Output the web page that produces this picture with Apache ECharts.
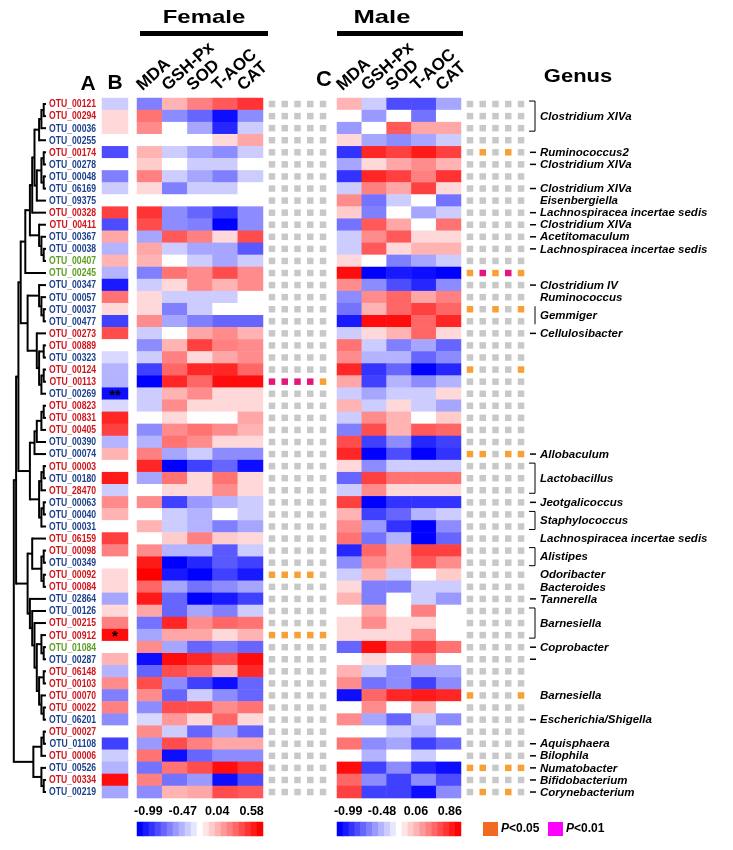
<!DOCTYPE html>
<html>
<head>
<meta charset="utf-8">
<script src="https://cdn.jsdelivr.net/npm/echarts@6/dist/echarts.min.js"></script>
<style>
  html, body { margin: 0; padding: 0; background: #fff; }
  #chart { width: 733px; height: 850px; }
</style>
</head>
<body>
<div id="chart"></div>
<script>
// ---- data ----
const otuNames = ['OTU_00121','OTU_00294','OTU_00036','OTU_00255','OTU_00174','OTU_00278','OTU_00048','OTU_06169',
  'OTU_09375','OTU_00328','OTU_00411','OTU_00367','OTU_00038','OTU_00407','OTU_00245','OTU_00347','OTU_00057',
  'OTU_00037','OTU_00477','OTU_00273','OTU_00889','OTU_00323','OTU_00124','OTU_00113','OTU_00269','OTU_00823',
  'OTU_00831','OTU_00405','OTU_00390','OTU_00074','OTU_00003','OTU_00180','OTU_28470','OTU_00063','OTU_00040',
  'OTU_00031','OTU_06159','OTU_00098','OTU_00349','OTU_00092','OTU_00084','OTU_02864','OTU_00126','OTU_00215',
  'OTU_00912','OTU_01084','OTU_00287','OTU_06148','OTU_00103','OTU_00070','OTU_00022','OTU_06201','OTU_00027',
  'OTU_01108','OTU_00006','OTU_00526','OTU_00334','OTU_00219'];

// r = red, b = blue, g = green label
const otuGroup = 'rrbbrbbbbrrbbggbbbbrrbrrbrrrbbrbrbbbrrbrrbbrrgbrrrrbrbrbrb';

const traits = ['MDA', 'GSH-Px', 'SOD', 'T-AOC', 'CAT'];

// column B
const otuB = [-0.2,0.15,0.15,0,-0.7,0,-0.5,-0.2,0,0.75,-0.7,0.35,-0.3,0.3,-0.3,-0.9,0.55,0.15,-0.75,0.7,
  0,-0.15,-0.3,-0.3,-0.95,-0.15,0.85,0.75,-0.3,0.3,0,0.9,-0.2,0.45,0.3,0,0.75,0.5,0,0.15,
  0.15,-0.35,0.15,0.5,0.95,0,0.3,-0.3,0.45,-0.5,0.5,-0.45,0,-0.75,-0.2,-0.3,0.95,-0.35];

const starsB = { 24: '**', 44: '*' };

// rows: MDA, GSH-Px, SOD, T-AOC, CAT
const femaleCorr = [
  [-0.5,0.3,0.5,0.65,0.8],[0.55,-0.45,-0.6,-0.95,-0.45],[0.45,0,-0.35,-0.85,-0.2],[0,0,0,0.15,0.35],
  [0.3,-0.2,-0.35,-0.45,-0.2],[0.2,0,-0.2,-0.2,0],[0.5,-0.2,-0.35,-0.5,-0.2],[0.15,-0.5,-0.2,-0.2,0],
  [0,0,0,0,0],[0.8,-0.45,-0.6,-0.8,-0.45],[0.7,-0.45,-0.5,-1,-0.45],[-0.35,0.65,0.5,0.15,0.7],
  [0.35,-0.2,-0.35,-0.35,-0.65],[0.3,0,-0.2,-0.35,-0.2],[-0.5,0.55,0.45,0.7,0.45],[-0.2,0.15,0.45,0.3,0.45],
  [0.15,-0.2,-0.2,-0.2,0],[0.15,-0.5,-0.2,0,0],[0.45,-0.35,-0.5,-0.6,-0.6],[-0.2,0,0.35,0.45,0.3],
  [-0.45,0.3,0.75,0.5,0.45],[-0.2,0.5,0.15,0.35,0.45],[-0.75,0.6,0.85,0.85,0.6],[-1,0.85,0.6,0.95,0.95],
  [-0.2,0.3,0.45,0.15,0.15],[-0.2,0.45,0.15,0.15,0.15],[0,0.15,0,0,0.35],[-0.45,0.45,0.55,0.45,0.3],
  [-0.3,0.55,0.45,0.15,0.15],[0.5,-0.35,-0.2,-0.45,-0.45],[0.85,-1,-0.75,-0.6,-0.95],[-0.35,0.55,0.15,0.55,0.15],
  [0,0.15,0.15,0.45,0.15],[0.45,-0.75,-0.4,-0.3,-0.2],[0,-0.2,-0.3,0,-0.2],[0.3,-0.2,-0.3,-0.5,-0.35],
  [0,0.2,0.5,0.2,0.15],[0.45,-0.3,-0.3,-0.65,-0.2],[0.9,-1,-0.85,-0.65,-0.75],[1,-0.9,-1,-0.75,-0.9],
  [0.6,-0.35,-0.55,-0.45,-0.35],[0.9,-0.6,-1,-0.9,-0.75],[0.35,-0.6,-0.35,-0.5,-0.2],[-0.55,0.85,0.45,0.6,0.55],
  [-0.35,0.35,0.35,0.15,0.3],[0.45,-0.35,-0.6,-0.5,-0.6],[-0.95,0.95,0.85,0.7,0.95],[-0.6,0.7,0.6,0.3,0.85],
  [0.7,-0.45,-0.75,-0.95,-0.6],[0.45,-0.6,-0.2,-0.45,-0.6],[-0.45,0.7,0.7,0.45,0.55],[-0.15,0.4,0.15,0.6,0.15],
  [0.45,-0.2,-0.6,-0.35,-0.6],[-0.4,0.7,0.5,0.35,0.35],[0.55,-0.95,-0.6,-0.45,-0.45],[-0.55,0.55,0.7,0.95,0.8],
  [0.5,-0.55,-0.4,-0.95,-0.7],[-0.45,0.3,0.35,0.7,0.65]
];

const maleCorr = [
  [0.3,-0.2,-0.7,-0.7,-0.35],[0,-0.4,0,-0.55,0],[-0.4,0,0.65,0.35,0.35],[0.15,-0.35,-0.45,-0.35,-0.2],
  [-0.8,0.85,0.75,0.9,0.75],[-0.35,0.15,0.35,0.45,0.3],[-0.8,0.85,0.75,0.5,0.8],[-0.2,0.5,0.35,0.75,0.15],
  [0.45,-0.55,-0.2,0,-0.55],[0.2,-0.5,0,-0.35,-0.2],[-0.55,0.65,0.35,0,0.55],[-0.2,0.45,0.65,0.15,0.15],
  [-0.2,0.65,0.15,0.3,0.3],[0.15,0,-0.5,-0.35,-0.2],[0.95,-1,-0.9,-0.95,-1],[0.45,-0.45,-0.7,-0.85,-0.45],
  [-0.45,0.45,0.6,0.35,0.5],[-0.55,0.3,0.6,0.75,0.6],[-0.9,0.95,0.95,0.6,0.85],[-0.2,0.15,0.3,0.6,0.15],
  [0.55,-0.2,-0.5,-0.35,-0.6],[0.45,-0.3,-0.3,-0.6,-0.45],[0.85,-0.8,-0.6,-1,-0.85],[0.35,-0.75,-0.3,-0.45,-0.3],
  [-0.2,-0.35,-0.2,-0.2,0.15],[0.3,-0.2,0.15,-0.2,-0.35],[-0.2,0.45,0.3,0,0.2],[-0.5,0.7,0.3,0.65,0.6],
  [0.7,-0.75,-0.45,-0.85,-0.75],[0.85,-1,-0.7,-1,-0.8],[0.15,-0.45,-0.2,-0.2,-0.2],[-0.6,0.75,0.55,0.55,0.55],
  [-0.2,0.45,0.15,0.15,0.15],[0.75,-1,-0.8,-0.8,-0.8],[0.3,-0.75,-0.6,-0.3,-0.2],[0.45,-0.4,-0.8,-1,-0.45],
  [0.55,-0.55,-0.3,-1,-0.6],[-0.85,0.6,0.35,0.75,0.75],[-0.45,0.45,0.35,0.65,0.45],[-0.2,0.3,-0.2,0,0.2],
  [0.15,-0.5,-0.5,-0.2,-0.2],[0.3,-0.5,0,-0.2,-0.4],[0,0.35,0,0.5,0],[0.15,0.45,0.15,0.15,0],
  [0.15,0.15,0.15,0.45,0],[-0.6,0.95,0.6,0.75,0.55],[0,0.15,0,0.45,0],[0.3,-0.2,-0.45,-0.35,-0.35],
  [0.45,-0.55,-0.45,-0.75,-0.45],[-0.95,0.6,0.85,0.9,0.85],[0,0.45,0,0.35,0],[0.45,-0.35,-0.6,-0.2,-0.45],
  [0,0,-0.2,-0.3,0],[0.55,-0.45,-0.35,-0.75,-0.6],[0,-0.3,0,-0.2,0],[0.95,-0.75,-0.45,-0.85,-0.95],
  [0.6,-0.45,-0.75,-0.45,-0.7],[0.75,-0.75,-0.75,-0.95,-0.45]
];

// significance per row: 0 = n.s. (grey), 1 = P<0.05, 2 = P<0.01
const femaleSig = { 23: [2,2,2,2,1], 39: [1,1,1,1,0], 44: [1,1,1,1,1] };
const maleSig = { 4: [0,1,0,1,0], 14: [1,2,1,2,1], 17: [1,0,1,0,1], 22: [1,0,0,0,1], 29: [1,1,0,1,1],
  49: [1,0,0,0,1], 55: [1,1,0,1,1], 57: [0,1,0,1,0] };

// genus annotations: [firstRow, lastRow, name, mark]
const genusNotes = [
  [0,2,'Clostridium XIVa','bracket'], [4,4,'Ruminococcus2','dash'], [5,5,'Clostridium XIVa','dash'],
  [7,7,'Clostridium XIVa','dash'], [8,8,'Eisenbergiella','none'], [9,9,'Lachnospiracea incertae sedis','dash'],
  [10,10,'Clostridium XIVa','dash'], [11,11,'Acetitomaculum','dash'], [12,12,'Lachnospiracea incertae sedis','dash'],
  [15,15,'Clostridium IV','dash'], [16,16,'Ruminococcus','none'], [17,18,'Gemmiger','bar'],
  [19,19,'Cellulosibacter','dash'], [29,29,'Allobaculum','dash'], [30,32,'Lactobacillus','bracket'],
  [33,33,'Jeotgalicoccus','dash'], [34,35,'Staphylococcus','bracket'], [36,36,'Lachnospiracea incertae sedis','none'],
  [37,38,'Alistipes','bracket'], [39,39,'Odoribacter','none'], [40,40,'Bacteroides','none'],
  [41,41,'Tannerella','dash'], [42,44,'Barnesiella','bracket'], [45,45,'Coprobacter','dash'], [46,46,'','dash'],
  [49,49,'Barnesiella','none'], [51,51,'Escherichia/Shigella','dash'], [53,53,'Aquisphaera','dash'],
  [54,54,'Bilophila','dash'], [55,55,'Numatobacter','dash'], [56,56,'Bifidobacterium','dash'],
  [57,57,'Corynebacterium','dash']
];

// clustering tree: [height, left, right], leaves are row indices
const dendro = [14,
  [13,
    [12,
      [11,
        [9, [7, [6, [5, [3,[2,[1,0,1],2],3], [4,[2,[1,4,5],[1,6,7]],8]], 9], [3,10,[2,11,[1,12,13]]]], 14],
        [8, [3,15,[2,16,[1,17,18]]], [4,19,[3,[1,20,21],[2,[1,22,23],24]]]]
      ],
      [7, [5,[4,[2,[1,25,26],27],28],29], [3,[2,[1,30,31],32],[2,[1,33,34],35]]]
    ],
    [8, [6,36,[2,[1,37,38],[1,39,40]]], [7,41,[6,42,[5,43,[4,[2,44,[1,45,46]],[3,[1,47,48],[2,49,[1,50,51]]]]]]]]
  ],
  [5.5, [2,[1,52,53],54], [2,55,[1,56,57]]]
];

// colour key steps and tick labels
const keySteps = [-1,-0.9,-0.8,-0.7,-0.6,-0.5,-0.4,-0.3,-0.2,-0.1,0,0.1,0.2,0.3,0.4,0.5,0.6,0.7,0.8,0.9,1];
const femaleTicks = ['-0.99', '-0.47', '0.04', '0.58'];
const maleTicks = ['-0.99', '-0.48', '0.06', '0.86'];

// ---- layout ----
const TOP = 98, ROWH = 12.07, NROW = otuNames.length, HM_H = ROWH * NROW;
const FONT = '"Liberation Sans", Arial, sans-serif';
const labelColor = { r: '#d0141c', b: '#1c3f8c', g: '#5c9e22' };
const sigColor = ['#c8c8c8', '#f7a035', '#e4157c'];
const rowY = r => TOP + (r + 0.5) * ROWH;

const chart = echarts.init(document.getElementById('chart'));

const F_LEFT = 137, F_W = 126, M_LEFT = 337, M_W = 124;
const grids = [
  { left: 102, top: TOP, width: 26, height: HM_H },      // 0 column B
  { left: F_LEFT, top: TOP, width: F_W, height: HM_H },  // 1 female
  { left: 265.6, top: TOP, width: 63.8, height: HM_H },  // 2 female sig
  { left: M_LEFT, top: TOP, width: M_W, height: HM_H },  // 3 male
  { left: 463.6, top: TOP, width: 63.8, height: HM_H },  // 4 male sig
  { left: F_LEFT, top: 822, width: F_W, height: 14 },    // 5 female key
  { left: M_LEFT, top: 822, width: M_W, height: 14 }     // 6 male key
];

const hidden = { show: false };
const rowIdx = otuNames.map((_, i) => i);
const colIdx = traits.map((_, i) => i);

function catX(grid, data) {
  return { type: 'category', gridIndex: grid, data: data, axisLine: hidden, axisTick: hidden,
    splitLine: hidden, axisLabel: hidden };
}
function catY(grid, data) {
  return { type: 'category', gridIndex: grid, data: data, inverse: true, axisLine: hidden,
    axisTick: hidden, splitLine: hidden, axisLabel: hidden };
}

const xAxes = [catX(0, ['B']), catX(1, traits), catX(2, colIdx), catX(3, traits), catX(4, colIdx),
  catX(5, keySteps), catX(6, keySteps)];
const yAxes = [catY(0, otuNames), catY(1, rowIdx), catY(2, rowIdx), catY(3, rowIdx), catY(4, rowIdx),
  catY(5, ['k']), catY(6, ['k'])];

const bData = otuB.map((v, r) => [0, r, v]);
const fData = [], mData = [], fSig = [], mSig = [];
femaleCorr.forEach((row, r) => row.forEach((v, c) => fData.push([c, r, v])));
maleCorr.forEach((row, r) => row.forEach((v, c) => mData.push([c, r, v])));
rowIdx.forEach(r => colIdx.forEach(c => {
  fSig.push([c, r, femaleSig[r] ? femaleSig[r][c] : 0]);
  mSig.push([c, r, maleSig[r] ? maleSig[r][c] : 0]);
}));
const keyData = keySteps.map((v, i) => [i, 0, v]);

function heat(xi, data, extra) {
  return Object.assign({ type: 'heatmap', xAxisIndex: xi, yAxisIndex: xi, data: data, silent: true,
    itemStyle: { borderWidth: 0 }, progressive: 0 }, extra || {});
}
function sig(xi, data) {
  return { type: 'scatter', xAxisIndex: xi, yAxisIndex: xi, data: data, symbol: 'rect', symbolSize: 6.5,
    silent: true, itemStyle: { color: p => sigColor[p.data[2]], opacity: 1 } };
}

const series = [
  heat(0, bData, { label: { show: true, formatter: p => starsB[p.data[1]] || '', fontSize: 15,
    fontWeight: 'bold', color: '#000', fontFamily: FONT, offset: [0, 2] } }),
  heat(1, fData),
  sig(2, fSig),
  heat(3, mData),
  sig(4, mSig),
  heat(5, keyData),
  heat(6, keyData)
];

// ---- decorations ----
const g = [];
function text(x, y, t, font, extra, el) {
  g.push(Object.assign({ type: 'text', x: x, y: y, silent: true,
    style: Object.assign({ text: t, font: font, fill: '#000', align: 'center', verticalAlign: 'middle' }, extra || {}) },
    el || {}));
}
function line(x1, y1, x2, y2, w) {
  g.push({ type: 'line', silent: true, shape: { x1: x1, y1: y1, x2: x2, y2: y2 },
    style: { stroke: '#000', lineWidth: w || 1 } });
}

// titles (the figure's lettering is stretched horizontally)
text(204, 18, 'Female', 'bold 19px ' + FONT, null, { scaleX: 1.26 });
text(382, 18, 'Male', 'bold 19px ' + FONT, null, { scaleX: 1.35 });
g.push({ type: 'rect', shape: { x: 140, y: 31, width: 128, height: 5 }, style: { fill: '#000' }, silent: true });
g.push({ type: 'rect', shape: { x: 337, y: 31, width: 126, height: 5 }, style: { fill: '#000' }, silent: true });
text(88, 84, 'A', 'bold 21px ' + FONT);
text(115, 83, 'B', 'bold 21px ' + FONT);
text(324, 80, 'C', 'bold 22px ' + FONT);
text(578, 77, 'Genus', 'bold 18px ' + FONT, null, { scaleX: 1.22 });

// rotated column headers
function headers(left, width) {
  const cw = width / traits.length;
  traits.forEach((t, i) => text(left + i * cw + 8, 94, t, 'bold 17px ' + FONT,
    { align: 'left', verticalAlign: 'bottom' }, { rotation: 42 * Math.PI / 180 }));
}
headers(F_LEFT, F_W);
headers(M_LEFT, M_W);

// OTU labels (narrow lettering)
otuNames.forEach((n, r) => text(96, rowY(r) + 0.5, n, 'bold 10.5px ' + FONT,
  { align: 'right', fill: labelColor[otuGroup[r]] }, { scaleX: 0.82 }));

// dendrogram
const LEAF_X = 46, DSTEP = 2.3;
function drawNode(n) {
  if (typeof n === 'number') return { x: LEAF_X, y: rowY(n) };
  const x = LEAF_X - n[0] * DSTEP;
  const kids = n.slice(1).map(drawNode);
  kids.forEach(k => line(x, k.y, k.x, k.y, 2));
  line(x, kids[0].y - 1, x, kids[kids.length - 1].y + 1, 2);
  return { x: x, y: (kids[0].y + kids[kids.length - 1].y) / 2 };
}
drawNode(dendro);

// genus notes
const GX = 535;
genusNotes.forEach(([r0, r1, name, mark]) => {
  const y0 = rowY(r0), y1 = rowY(r1), ym = (y0 + y1) / 2;
  if (mark === 'dash') line(GX - 5, ym, GX + 1, ym, 1.5);
  if (mark === 'bracket') {
    g.push({ type: 'polyline', silent: true, shape: { points: [[GX - 6, y0 - 3], [GX, y0 - 3], [GX, y1 + 3], [GX - 6, y1 + 3]] },
      style: { stroke: '#000', lineWidth: 1, fill: null } });
  }
  if (mark === 'bar') line(GX, y0 - 3, GX, y1 + 3, 1);
  if (name) text(GX + 5, ym + 0.5, name, 'italic bold 11.5px ' + FONT, { align: 'left' });
});

// colour key ticks
function keyTicks(left, width, ticks) {
  ticks.forEach((t, i) => text(left + width * (0.09 + 0.82 * i / (ticks.length - 1)), 812, t, 'bold 12.5px ' + FONT));
}
keyTicks(F_LEFT, F_W, femaleTicks);
keyTicks(M_LEFT, M_W, maleTicks);

// significance key
g.push({ type: 'rect', silent: true, shape: { x: 483, y: 822, width: 15, height: 14 }, style: { fill: '#f26a21' } });
g.push({ type: 'rect', silent: true, shape: { x: 548, y: 822, width: 15, height: 14 }, style: { fill: '#ff00ff' } });
const rich = { i: { fontStyle: 'italic', fontWeight: 'bold', fontSize: 12, fontFamily: FONT } };
text(501, 829, '{i|P}<0.05', 'bold 12px ' + FONT, { align: 'left', rich: rich });
text(566, 829, '{i|P}<0.01', 'bold 12px ' + FONT, { align: 'left', rich: rich });

chart.setOption({
  animation: false,
  backgroundColor: '#fff',
  grid: grids,
  xAxis: xAxes,
  yAxis: yAxes,
  visualMap: {
    type: 'continuous', show: false, min: -1, max: 1, dimension: 2, seriesIndex: [0, 1, 3, 5, 6],
    inRange: { color: ['#0000ff', '#ffffff', '#ff0000'] }
  },
  series: series,
  graphic: g
});
</script>
</body>
</html>
